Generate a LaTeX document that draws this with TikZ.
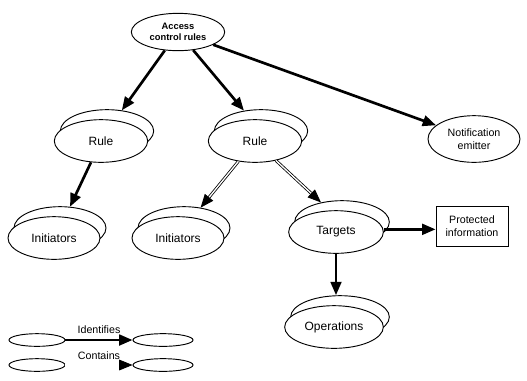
\documentclass[tikz,border=0pt]{standalone}
\usepackage{fontspec}
\setmainfont{Liberation Sans}
\usetikzlibrary{arrows.meta,shapes.geometric}
\tikzset{
  item/.style = {draw,ellipse,line width=0.7pt,inner sep=0pt,
    minimum width=70pt,minimum height=32pt,fill=white,font=\small},
  box/.style = {draw,rectangle,line width=0.7pt,inner sep=0pt,
    minimum width=54pt,minimum height=30pt,align=center,font=\footnotesize},
  small/.style = {item,minimum width=42pt,minimum height=9.5pt},
  ident/.style = {-{Triangle[length=10pt,width=8pt]},line width=2pt},
  contains/.style = {-{Triangle[length=10pt,width=8pt]},double,
    double distance=1pt,line width=0.6pt},
  legtext/.style = {anchor=south,font=\fontsize{8}{9}\selectfont,inner sep=0pt,
    yshift=4pt}
}
\tikzset{>=latex}
% two ellipses, one behind the other
\newcommand{\stacked}[4][70pt]{%
  \node[item,minimum width=#1,xshift=4.5pt,yshift=7.5pt] (#2b) at (#3) {};
  \node[item,minimum width=#1] (#2) at (#3) {#4};
}

\begin{document}
\begin{tikzpicture}[x=0.75pt,y=-0.75pt]
  \useasboundingbox (0,0) rectangle (527,380);
  % nodes
  \node[item,minimum height=28pt,font=\scriptsize\bfseries,align=center]
    (acr) at (178,32) {Access\\control rules};
  \stacked{ruleA}{101,141}{Rule}
  \stacked{ruleB}{255,141}{Rule}
  \node[item,minimum width=69pt,minimum height=35pt,align=center,
    font=\footnotesize] (notif) at (474,139) {Notification\\emitter};
  \stacked[69pt]{initA}{54,238}{Initiators}
  \stacked[69pt]{initB}{178,238}{Initiators}
  \stacked[71pt]{targets}{336,232}{Targets}
  \node[box] (prot) at (472,226) {Protected\\information};
  \stacked[74pt]{ops}{334,327}{Operations}
  % arrows
  \draw[ident] (acr) -- (ruleAb);
  \draw[ident] (acr) -- (ruleBb);
  \draw[ident] (acr) -- (notif);
  \draw[ident] (ruleA) -- (initAb);
  \draw[contains] (ruleB) -- (initBb);
  \draw[contains] (ruleB) -- (targetsb);
  \draw[ident] ([yshift=2pt]targets.east) -- ([yshift=2pt]prot.west |- targets.east);
  \draw[ident] (targets.south) -- (targets.south |- opsb.north);
  % legend
  \node[small] (legA) at (37,340) {};
  \node[small,minimum width=45pt] (legB) at (163,340) {};
  \node[small] (legC) at (37,365) {};
  \node[small,minimum width=45pt] (legD) at (163,365) {};
  \draw[ident] (legA.east) -- node[legtext]{Identifies} (legB.west);
  \draw[contains] (legC.east) -- node[legtext]{Contains} (legD.west);
\end{tikzpicture}
\end{document}
